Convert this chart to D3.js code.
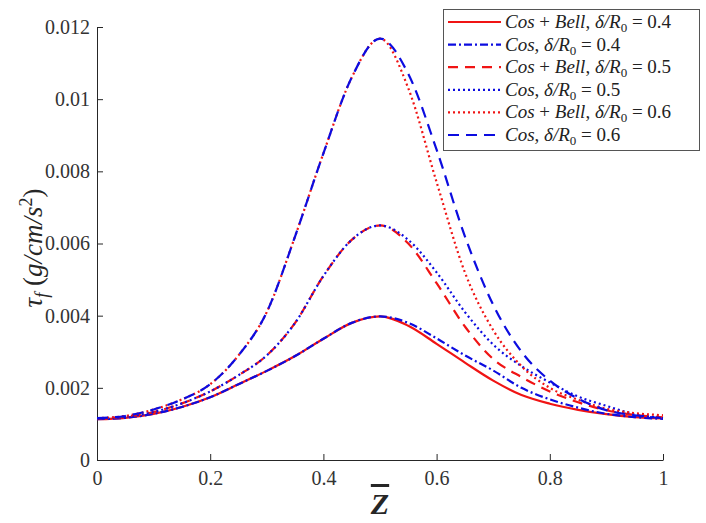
<!DOCTYPE html>
<html><head><meta charset="utf-8">
<script src="https://cdn.jsdelivr.net/npm/d3@7/dist/d3.min.js"></script>
<style>body{margin:0;background:#fff}svg{display:block}</style>
</head><body><svg id="chart" width="706" height="523"></svg>
<script>
// ---- data ----
const zValues = [0,0.05,0.1,0.15,0.2,0.25,0.3,0.35,0.4,0.45,0.5,0.55,0.6,0.65,0.7,0.75,0.8,0.85,0.9,0.95,1];
const cosBell04 = [0.00113,0.00117,0.00128,0.00147,0.00174,0.0021,0.00247,0.00288,0.00336,0.0038,0.00398,0.00372,0.00322,0.0027,0.0022,0.0018,0.00156,0.00139,0.00127,0.00119,0.00115];
const cos04     = [0.00113,0.00117,0.00128,0.00147,0.00174,0.0021,0.00247,0.00288,0.00336,0.0038,0.00398,0.0038,0.00337,0.0029,0.00248,0.002,0.00168,0.00145,0.00128,0.00119,0.00114];
const cosBell05 = [0.00115,0.0012,0.00133,0.00157,0.0019,0.00235,0.0029,0.0038,0.0051,0.0061,0.0065,0.006,0.0049,0.0037,0.0028,0.0023,0.0019,0.0016,0.00138,0.00125,0.00118];
const cos05     = [0.00115,0.0012,0.00133,0.00157,0.0019,0.00235,0.0029,0.0038,0.0051,0.0061,0.0065,0.0061,0.0052,0.0041,0.0032,0.0026,0.00215,0.00176,0.0015,0.00127,0.00116];
const cosBell06 = [0.00116,0.00122,0.0014,0.00168,0.0021,0.0029,0.0041,0.0062,0.0085,0.0106,0.01168,0.0103,0.0077,0.0052,0.0036,0.0026,0.002,0.00167,0.00142,0.0013,0.00124];
const cos06     = [0.00116,0.00122,0.0014,0.00168,0.0021,0.0029,0.0041,0.0062,0.0085,0.0106,0.01168,0.0107,0.0086,0.0062,0.0043,0.003,0.0022,0.0017,0.00138,0.00124,0.00116];
const xTicks = [0,0.2,0.4,0.6,0.8,1];
const yTicks = [0,0.002,0.004,0.006,0.008,0.01,0.012];
const yTickLabels = ["0","0.002","0.004","0.006","0.008","0.01","0.012"];
const xTickLabels = ["0","0.2","0.4","0.6","0.8","1"];
const seriesNames = ["Cos+Bell","Cos","Cos+Bell","Cos","Cos+Bell","Cos"];
const seriesDelta = ["0.4","0.4","0.5","0.5","0.6","0.6"];

// ---- styles ----
const RED = "#f01414", BLUE = "#0c0ce0";
const series = [
  {vals: cosBell04, color: RED,  dash: null},
  {vals: cos04,     color: BLUE, dash: "8,3,2,3"},
  {vals: cosBell05, color: RED,  dash: "10,7"},
  {vals: cos05,     color: BLUE, dash: "2,3"},
  {vals: cosBell06, color: RED,  dash: "2,3"},
  {vals: cos06,     color: BLUE, dash: "11,7"}
];

const svg = d3.select("#chart");
const x = d3.scaleLinear().domain([0,1]).range([97,663]);
const y = d3.scaleLinear().domain([0,0.012]).range([460,27]);
const AX = "#262626";
const FONT = "Liberation Serif";

// axes
const xAxis = d3.axisBottom(x).tickValues(xTicks).tickFormat((d,i)=>xTickLabels[i]).tickSizeInner(-6).tickSizeOuter(0).tickPadding(11);
const yAxis = d3.axisLeft(y).tickValues(yTicks).tickFormat((d,i)=>yTickLabels[i]).tickSizeInner(-6).tickSizeOuter(0).tickPadding(7);
const gx = svg.append("g").attr("transform","translate(0,460)").call(xAxis);
const gy = svg.append("g").attr("transform","translate(97,0)").call(yAxis);
[gx,gy].forEach(g=>{
  g.attr("font-family",null);
  g.select(".domain").attr("stroke",AX).attr("stroke-width",1);
  g.selectAll(".tick line").attr("stroke",AX);
  g.selectAll(".tick text").attr("fill","#333").style("font-family",FONT).style("font-size","20px");
});

// lines
const line = d3.line().x((d,i)=>x(zValues[i])).y(d=>y(d)).curve(d3.curveMonotoneX);
series.forEach(s=>{
  svg.append("path").datum(s.vals).attr("d",line)
    .attr("fill","none").attr("stroke",s.color).attr("stroke-width",2.2)
    .attr("stroke-dasharray",s.dash);
});

// axis labels
svg.append("text").attr("x",380).attr("y",514).attr("text-anchor","middle")
  .style("font-family",FONT).style("font-style","italic").style("font-weight","bold").style("font-size","30px")
  .attr("fill",AX).style("text-decoration","overline").text("Z");

const yl = svg.append("text").attr("transform","translate(42,248) rotate(-90)").attr("text-anchor","middle")
  .style("font-family",FONT).style("font-size","27px").attr("fill",AX);
yl.append("tspan").style("font-style","italic").text("τ");
yl.append("tspan").style("font-style","italic").style("font-size","18px").attr("dy",6).text("f");
yl.append("tspan").attr("dy",-6).text(" (");
yl.append("tspan").style("font-style","italic").text("g/cm/s");
yl.append("tspan").style("font-size","18px").attr("dy",-10).text("2");
yl.append("tspan").attr("dy",10).text(")");

// legend
const lg = svg.append("g");
lg.append("rect").attr("x",443.5).attr("y",9.5).attr("width",256).attr("height",141)
  .attr("fill","#fff").attr("stroke","#555").attr("stroke-width",1);
series.forEach((s,i)=>{
  const cy = 22 + i*22.6;
  lg.append("line").attr("x1",448).attr("x2",501).attr("y1",cy).attr("y2",cy)
    .attr("stroke",s.color).attr("stroke-width",2.2).attr("stroke-dasharray",s.dash);
  const t = lg.append("text").attr("x",505).attr("y",cy+6).style("font-family",FONT).style("font-size","19px").attr("fill","#222");
  const nm = seriesNames[i];
  if (nm === "Cos+Bell") {
    t.append("tspan").style("font-style","italic").text("Cos");
    t.append("tspan").text(" + ");
    t.append("tspan").style("font-style","italic").text("Bell");
  } else {
    t.append("tspan").style("font-style","italic").text("Cos");
  }
  t.append("tspan").text(", ");
  t.append("tspan").style("font-style","italic").text("δ/R");
  t.append("tspan").style("font-size","13px").attr("dy",4).text("0");
  t.append("tspan").attr("dy",-4).text(" = " + seriesDelta[i]);
});
</script></body></html>
